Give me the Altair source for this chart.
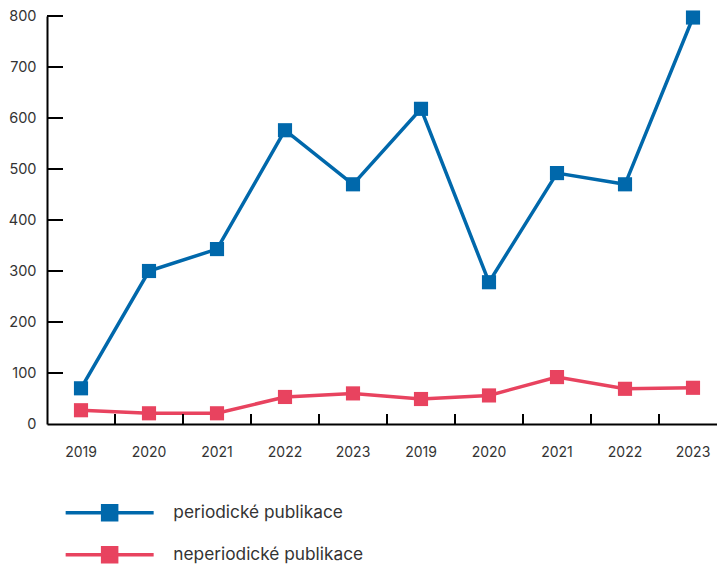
import altair as alt
import pandas as pd

keys = ["2019a", "2020a", "2021a", "2022a", "2023a", "2019b", "2020b", "2021b", "2022b", "2023b"]
series_names = ["periodické publikace", "neperiodické publikace"]
periodicke = [70, 300, 343, 576, 470, 618, 278, 492, 470, 797]
neperiodicke = [27, 21, 21, 53, 60, 49, 56, 92, 69, 71]
y_ticks = [0, 100, 200, 300, 400, 500, 600, 700, 800]
colors = ["#0068ab", "#e8435f"]

rows = []
for k, v in zip(keys, periodicke):
    rows.append({"key": k, "value": v, "series": series_names[0]})
for k, v in zip(keys, neperiodicke):
    rows.append({"key": k, "value": v, "series": series_names[1]})
df = pd.DataFrame(rows)

W, H = 680, 408
FONT = "Inter"

xscale = alt.Scale(type="band", paddingInner=0, paddingOuter=0)
xenc = alt.X("key:N", sort=keys, title=None, scale=xscale,
             axis=alt.Axis(labelExpr="slice(datum.label, 0, 4)", labelAngle=0,
                           bandPosition=0.5, labelAlign="center",
                           tickSize=0, labelPadding=21, domainColor="black",
                           domainWidth=2, labelFontSize=14, labelColor="#333",
                           labelFont=FONT, grid=False))
yscale = alt.Scale(domain=[0, 800], nice=False)

lines = alt.Chart(df).mark_line(
    strokeWidth=3.5,
    point=alt.OverlayMarkDef(shape="square", size=200, filled=True, opacity=1),
).encode(
    x=xenc,
    y=alt.Y("value:Q", scale=yscale, title=None,
            axis=alt.Axis(values=y_ticks, tickSize=0, labelPadding=11,
                          domainColor="black", domainWidth=2, labelFontSize=14.5,
                          labelColor="#333", labelFont=FONT, grid=False)),
    color=alt.Color("series:N", sort=series_names,
                    scale=alt.Scale(domain=series_names, range=colors),
                    legend=alt.Legend(
                        title=None, orient="none", legendX=54, legendY=488,
                        direction="vertical",
                        symbolType="M-8.8,0L8.8,0M-1.4,-1.4L1.4,-1.4L1.4,1.4L-1.4,1.4Z",
                        symbolSize=100, symbolStrokeWidth=3.5,
                        labelFontSize=17.3, labelOffset=55, labelColor="#333",
                        labelFont=FONT, rowPadding=13, labelLimit=400)),
)

xticks_df = pd.DataFrame({"key": keys[1:]})
xticks = alt.Chart(xticks_df).mark_rule(color="black", strokeWidth=2).encode(
    x=alt.X("key:N", sort=keys, bandPosition=0, scale=xscale),
    y=alt.value(H - 10),
    y2=alt.value(H),
)

yticks_df = pd.DataFrame({"v": y_ticks[1:]})
yticks = alt.Chart(yticks_df).mark_rule(color="black", strokeWidth=2).encode(
    y=alt.Y("v:Q", scale=yscale),
    x=alt.value(0),
    x2=alt.value(16),
)

chart = alt.layer(lines, xticks, yticks).properties(
    width=W, height=H,
    autosize=alt.AutoSizeParams(type="none"),
    padding={"left": 39, "top": 8, "right": -10, "bottom": 144},
    background="white",
).configure_view(stroke=None)

chart.save("out.html", embed_options={"renderer": "svg", "actions": False})
